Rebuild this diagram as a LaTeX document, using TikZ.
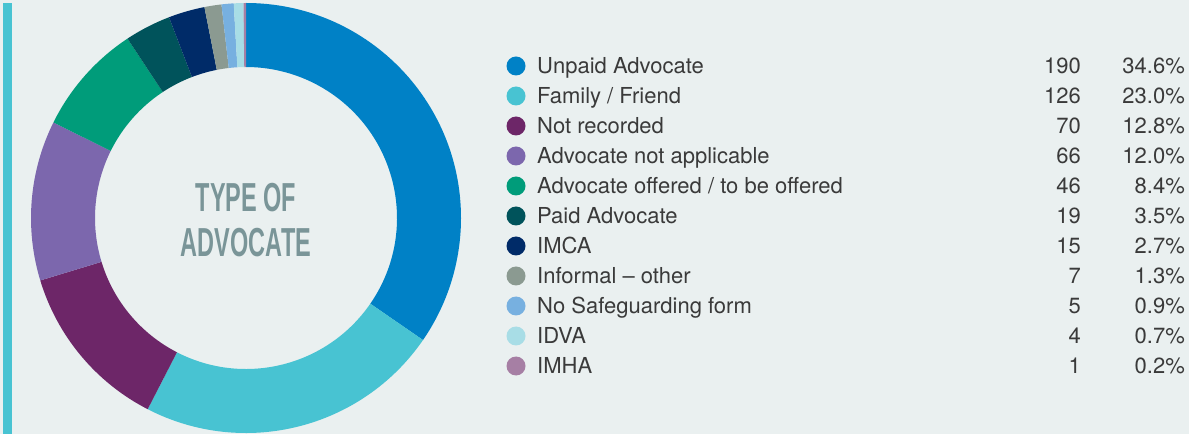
\documentclass[tikz,border=0pt]{standalone}
\usepackage{fontspec}
\setmainfont{TeX Gyre Heros}
\newfontfamily\titlefont{Liberation Sans}
\definecolor{panelbg}{HTML}{EAF0F0}
\definecolor{edgebar}{HTML}{48C3D2}
\definecolor{keytextc}{HTML}{3A3A3A}
\definecolor{titlec}{HTML}{7A9598}
\definecolor{unpaidc}{HTML}{0081C6}
\definecolor{friendc}{HTML}{48C3D2}
\definecolor{notrecc}{HTML}{6D2668}
\definecolor{notapplc}{HTML}{7C67AD}
\definecolor{offeredc}{HTML}{009C7A}
\definecolor{paidc}{HTML}{00535B}
\definecolor{imcac}{HTML}{002B68}
\definecolor{informalc}{HTML}{8B9A91}
\definecolor{nosafec}{HTML}{77B0E0}
\definecolor{idvac}{HTML}{A8DDE6}
\definecolor{imhac}{HTML}{A67FA4}
\usetikzlibrary{positioning,calc}

\tikzset{keydot/.style={circle,inner sep=0pt,minimum size=19pt},
         keytext/.style={inner sep=0pt,text=keytextc,font=\fontsize{22}{26}\selectfont},
         titlelabel/.style={align=center,text=titlec,inner sep=0pt,
                            font=\titlefont\bfseries\fontsize{40.5}{45}\selectfont}}

\begin{document}
\begin{tikzpicture}[x=1pt,y=1pt]
  \fill[panelbg] (0,0) rectangle (1189,434);
  \useasboundingbox (0,0) rectangle (1189,434);
  \fill[edgebar] (3,0) rectangle (12,431);

  % ring, counted clockwise from the top (total 549)
  \foreach \s/\e/\c in {0/190/unpaidc,190/316/friendc,316/386/notrecc,386/452/notapplc,
      452/498/offeredc,498/517/paidc,517/532/imcac,532/539/informalc,539/544/nosafec,
      544/548/idvac,548/549/imhac}
  {
    \pgfmathsetmacro\angA{90-\s/549*360}
    \pgfmathsetmacro\angB{90-\e/549*360}
    \fill[\c] ($(246,216)+(\angA:215)$)
      arc[start angle=\angA, end angle=\angB, radius=215]
      -- ($(246,216)+(\angB:151)$)
      arc[start angle=\angB, end angle=\angA, radius=151] -- cycle;
  }

  \node[titlelabel] (title) at (246,214)
    {\scalebox{0.58}[1]{TYPE OF}\\\scalebox{0.58}[1]{ADVOCATE}};

  % legend
  \foreach \i/\c/\t/\n/\p in {0/unpaidc/Unpaid Advocate/190/34.6,
      1/friendc/{Family / Friend}/126/23.0,
      2/notrecc/Not recorded/70/12.8,
      3/notapplc/Advocate not applicable/66/12.0,
      4/offeredc/{Advocate offered / to be offered}/46/8.4,
      5/paidc/Paid Advocate/19/3.5,
      6/imcac/IMCA/15/2.7,
      7/informalc/Informal -- other/7/1.3,
      8/nosafec/No Safeguarding form/5/0.9,
      9/idvac/IDVA/4/0.7,
      10/imhac/IMHA/1/0.2}
  {
    \node[keydot,fill=\c] (dot\i) at (516,368-30*\i) {};
    \node[keytext,anchor=base west] (lab\i) at (537,360-30*\i) {\t};
    \node[keytext,anchor=base east] (num\i) at (1081,360-30*\i) {\n};
    \node[keytext,anchor=base east] (pct\i) at (1185,360-30*\i) {\p\%};
  }
\end{tikzpicture}
\end{document}
